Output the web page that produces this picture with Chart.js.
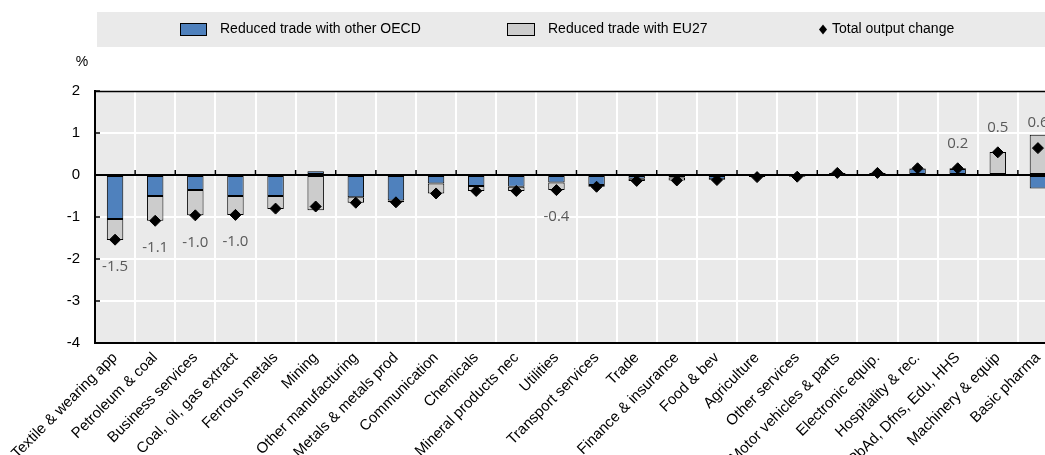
<!DOCTYPE html>
<html>
<head>
<meta charset="utf-8">
<script src="https://cdn.jsdelivr.net/npm/chart.js@4/dist/chart.umd.min.js"></script>
<style>
html,body{margin:0;padding:0;overflow:hidden;background:#fff;width:1045px;height:455px}
#wrap{position:absolute;left:0;top:0;width:1070px;height:455px}
</style>
</head>
<body>
<div id="wrap"><canvas id="c" width="1070" height="455"></canvas></div>
<script>
const categories = ["Textile & wearing app","Petroleum & coal","Business services","Coal, oil, gas extract","Ferrous metals","Mining","Other manufacturing","Metals & metals prod","Communication","Chemicals","Mineral products nec","Utilities","Transport services","Trade","Finance & insurance","Food & bev","Agriculture","Other services","Motor vehicles & parts","Electronic equip.","Hospitality & rec.","PbAd, Dfns, Edu, HHS","Machinery & equip","Basic pharma"];
const otherOECD = [-1.05,-0.50,-0.36,-0.50,-0.50,0.09,-0.53,-0.61,-0.20,-0.26,-0.28,-0.18,-0.24,-0.09,-0.06,-0.10,-0.02,-0.02,0.02,0.02,0.15,0.14,-0.01,-0.32];
const eu27 = [-0.50,-0.59,-0.60,-0.45,-0.31,-0.84,-0.13,-0.04,-0.24,-0.12,-0.10,-0.18,-0.04,-0.05,-0.07,-0.02,-0.03,-0.02,0.03,0.03,0.01,0.02,0.55,0.96];
const totalOutput = [-1.54,-1.09,-0.96,-0.95,-0.80,-0.75,-0.66,-0.65,-0.44,-0.38,-0.38,-0.36,-0.28,-0.14,-0.13,-0.12,-0.05,-0.04,0.05,0.05,0.16,0.16,0.54,0.64];
const dataLabels = ["-1.5","-1.1","-1.0","-1.0",null,null,null,null,null,null,null,"-0.4",null,null,null,null,null,null,null,null,null,"0.2","0.5","0.6"];
const yTicks = [-4,-3,-2,-1,0,1,2];
const seriesNames = ["Reduced trade with other OECD","Reduced trade with EU27","Total output change"];
const unitLabel = "%";

const FONT = '"Liberation Sans", Arial, sans-serif';
const BLUE = '#4F81BD', GREY = '#CCCCCC', BG = '#EAEAEA';

const decor = {
  id: 'decor',
  beforeDraw(chart) {
    const {ctx, chartArea: a} = chart;
    ctx.save();
    ctx.fillStyle = BG;
    ctx.fillRect(97, 12, chart.width - 97, 35);
    ctx.fillRect(a.left, a.top, a.right - a.left, a.bottom - a.top);
    // legend
    ctx.font = '14px ' + FONT;
    ctx.textBaseline = 'middle';
    ctx.fillStyle = '#000';
    const ly = 29.5;
    ctx.lineWidth = 1;
    ctx.strokeStyle = '#000';
    ctx.fillStyle = BLUE; ctx.fillRect(180.5, 23.5, 26, 12); ctx.strokeRect(180.5, 23.5, 26, 12);
    ctx.fillStyle = GREY; ctx.fillRect(507.5, 23.5, 27, 12); ctx.strokeRect(507.5, 23.5, 27, 12);
    ctx.fillStyle = '#000';
    ctx.beginPath(); ctx.moveTo(823, ly - 5); ctx.lineTo(827, ly); ctx.lineTo(823, ly + 5); ctx.lineTo(819, ly); ctx.closePath(); ctx.fill();
    ctx.fillText(seriesNames[0], 220, ly);
    ctx.fillText(seriesNames[1], 548, ly);
    ctx.fillText(seriesNames[2], 832, ly);
    // unit
    ctx.textAlign = 'center';
    ctx.font = '14px ' + FONT;
    ctx.fillText(unitLabel, 82, 62);
    ctx.restore();
  },
  beforeDatasetsDraw(chart) {
    const {ctx, chartArea: a, scales} = chart;
    ctx.save();
    ctx.strokeStyle = '#000';
    ctx.lineWidth = 1.5;
    ctx.beginPath();
    ctx.moveTo(a.left, a.top + 0.5); ctx.lineTo(a.right, a.top + 0.5);
    ctx.moveTo(a.right - 0.5, a.top); ctx.lineTo(a.right - 0.5, a.bottom);
    ctx.stroke();
    // y ticks inside
    ctx.lineWidth = 1.5;
    yTicks.forEach(v => {
      const y = scales.y.getPixelForValue(v);
      ctx.beginPath(); ctx.moveTo(a.left, y); ctx.lineTo(a.left + 5, y); ctx.stroke();
    });
    ctx.restore();
  },
  beforeDatasetDraw(chart, args) {
    if (args.meta.type !== 'line') return;
    const {ctx, chartArea: a, scales} = chart;
    const y0 = scales.y.getPixelForValue(0);
    ctx.save();
    ctx.strokeStyle = '#000';
    ctx.lineWidth = 2;
    ctx.beginPath(); ctx.moveTo(a.left, y0); ctx.lineTo(a.right, y0); ctx.stroke();
    ctx.lineWidth = 1.5;
    const n = categories.length;
    for (let k = 1; k < n; k++) {
      const x = (scales.x.getPixelForValue(k - 1) + scales.x.getPixelForValue(k)) / 2;
      ctx.beginPath(); ctx.moveTo(x, y0); ctx.lineTo(x, y0 - 5); ctx.stroke();
    }
    ctx.restore();
  },
  afterDatasetsDraw(chart) {
    const {ctx, scales} = chart;
    ctx.save();
    ctx.font = '15px "Open Sans", "Noto Sans", sans-serif';
    ctx.fillStyle = '#595959';
    ctx.textAlign = 'center';
    ctx.textBaseline = 'middle';
    dataLabels.forEach((t, i) => {
      if (!t) return;
      const x = scales.x.getPixelForValue(i);
      const yv = scales.y.getPixelForValue(totalOutput[i]);
      ctx.fillText(t, x, totalOutput[i] < 0 ? yv + 27 : yv - 25);
    });
    ctx.restore();
  }
};

new Chart(document.getElementById('c'), {
  data: {
    labels: categories,
    datasets: [
      {type: 'line', label: seriesNames[2], data: totalOutput, showLine: false, order: 0, stack: 'tot',
       pointStyle: 'rectRot', pointRadius: 5.5, pointHoverRadius: 5.5, pointBackgroundColor: '#000', pointBorderColor: '#000', pointBorderWidth: 1},
      {type: 'bar', label: seriesNames[0], data: otherOECD, order: 1, stack: 'bars',
       backgroundColor: BLUE, borderColor: '#000', borderWidth: 1, borderSkipped: false, barPercentage: 0.41, categoryPercentage: 1},
      {type: 'bar', label: seriesNames[1], data: eu27, order: 2, stack: 'bars',
       backgroundColor: GREY, borderColor: '#000', borderWidth: 1, borderSkipped: false, barPercentage: 0.41, categoryPercentage: 1}
    ]
  },
  options: {
    responsive: false,
    animation: false,
    devicePixelRatio: 1,
    layout: {padding: {top: 91, right: 12, left: 0, bottom: 0}},
    plugins: {legend: {display: false}, tooltip: {enabled: false}, title: {display: false}},
    scales: {
      x: {
        type: 'category', stacked: true, offset: true,
        grid: {color: '#fff', lineWidth: 2, drawTicks: false, offset: true},
        border: {color: '#000', width: 2},
        ticks: {autoSkip: false, maxRotation: 45, minRotation: 45, padding: 6, color: '#000', font: {family: FONT, size: 15}},
        afterFit(s) { s.height = 112; }
      },
      y: {
        stacked: true, min: -4, max: 2,
        grid: {color: '#fff', lineWidth: 2, drawTicks: false},
        border: {color: '#000', width: 2},
        ticks: {stepSize: 1, padding: 15, color: '#000', font: {family: FONT, size: 15}},
        afterFit(s) { s.width = 95; }
      }
    }
  },
  plugins: [decor]
});
</script>
</body>
</html>
